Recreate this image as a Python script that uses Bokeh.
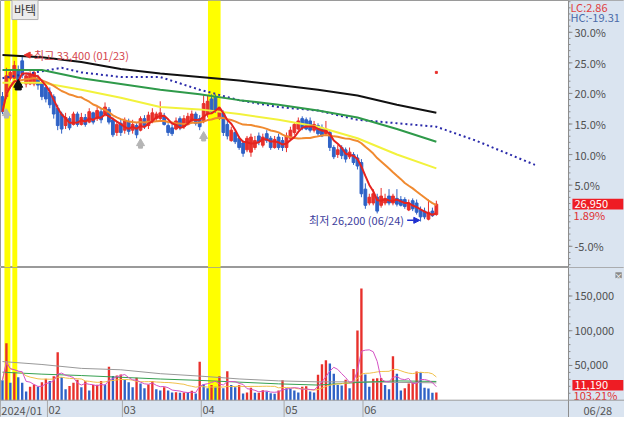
import pandas as pd
from bokeh.plotting import figure
from bokeh.layouts import column
from bokeh.models import (Range1d, BoxAnnotation, Label, Arrow, NormalHead, ColumnDataSource, Span)
from bokeh.core.properties import value
from bokeh.embed import file_html
from bokeh.resources import INLINE

# ---------------- data (daily candles 2024-01-16 .. 2024-06-28) ----------------
opens = [31600, 31600, 32400, 32400, 32750, 33150, 32150, 32150, 32150, 32400,
         32200, 32000, 31800, 31600, 31100, 30850, 30350, 30650, 30400, 30850,
         30400, 30700, 30500, 30900, 30650, 30950, 30850, 31050, 30600, 30050,
         30450, 30150, 30500, 30150, 30350, 30150, 30650, 30350, 30550, 30650,
         30650, 30750, 30350, 30250, 30200, 30650, 30300, 30400, 30550, 30850,
         30650, 30550, 30850, 31500, 31600, 30700, 30900, 30400, 29700, 30050,
         29800, 29600, 29300, 29200, 29400, 29900, 29500, 30000, 29800, 29400,
         29850, 29700, 29400, 29800, 30050, 30200, 30650, 30600, 30550, 30150,
         30350, 30250, 30000, 30050, 29400, 29100, 29400, 29300, 29000, 29100,
         28950, 28750, 27600, 27000, 27000, 27250, 26900, 27000, 27300, 27000,
         27200, 27150, 27150, 26700, 27100, 27000, 26700, 26650, 26300, 26650,
         26500]
closes = [30950, 32500, 32650, 32950, 32300, 32600, 32500, 32550, 32650, 32100,
          31600, 31500, 31250, 30850, 30350, 30200, 30700, 30250, 30850, 30400,
          30700, 30400, 30950, 30500, 31000, 30600, 31150, 30500, 29950, 30400,
          30050, 30550, 30100, 30400, 29950, 30650, 30350, 30800, 30900, 30850,
          30900, 30400, 30050, 30000, 30550, 30250, 30650, 30750, 30850, 30450,
          30300, 31300, 31400, 30950, 31000, 31050, 30050, 29900, 30150, 29650,
          29400, 29150, 29800, 29850, 29700, 29650, 29850, 29700, 29400, 29750,
          29400, 29400, 29900, 30150, 30400, 30550, 30250, 30200, 30150, 30400,
          30000, 29900, 30200, 29400, 29000, 29300, 29050, 28900, 29200, 28750,
          28600, 27400, 26900, 27250, 27400, 26650, 27300, 27200, 27000, 27300,
          26950, 26900, 26850, 27000, 26750, 26600, 26400, 26400, 26600, 26450,
          26950]
highs = [31800, 32850, 32750, 33150, 32950, 33400, 32650, 32700, 32750, 32550,
         32350, 32100, 32000, 31700, 31250, 30950, 30900, 30750, 30950, 30950,
         30900, 30850, 31100, 30950, 31150, 31100, 31350, 31150, 30700, 30550,
         30600, 30700, 30650, 30600, 30450, 30750, 30800, 30950, 31100, 30950,
         31400, 30900, 30450, 30400, 30700, 30750, 30800, 30900, 31000, 30950,
         30800, 31700, 31650, 31700, 31700, 31150, 31000, 30550, 30300, 30150,
         29900, 29700, 29900, 30000, 29900, 30050, 30000, 30150, 29900, 29900,
         30000, 29850, 30050, 30300, 30500, 30700, 30750, 30700, 30700, 30550,
         30450, 30400, 30550, 30150, 29500, 29500, 29500, 29400, 29400, 29200,
         29100, 28900, 27850, 27400, 27600, 27400, 27650, 27400, 27600, 27400,
         27600, 27300, 27250, 27150, 27200, 27150, 26850, 26800, 27150, 26800,
         27100]
lows = [30850, 31500, 32300, 32350, 32150, 32400, 32000, 32100, 32050, 31900,
        31450, 31350, 31100, 30650, 30150, 30000, 30200, 30150, 30350, 30300,
        30350, 30300, 30450, 30400, 30550, 30450, 30750, 30400, 29850, 29900,
        29900, 30000, 29950, 30000, 29800, 30100, 30200, 30200, 30450, 30550,
        30550, 30350, 29900, 29900, 30150, 30150, 30200, 30350, 30450, 30350,
        30150, 30450, 30700, 30850, 30900, 30600, 29900, 29750, 29650, 29550,
        29300, 29000, 29200, 29000, 29300, 29500, 29400, 29600, 29300, 29350,
        29300, 29250, 29200, 29700, 29950, 30150, 30150, 30150, 30050, 30050,
        29900, 29850, 29900, 29250, 28900, 28950, 28900, 28750, 28900, 28650,
        28450, 27250, 26750, 26900, 26900, 26550, 26800, 26900, 26900, 26900,
        26850, 26850, 26750, 26650, 26650, 26500, 26200, 26300, 26250, 26400,
        26450]
volumes = [28700, 82000, 25000, 40000, 33000, 25000, 12500, 19500, 22600, 19500,
           26000, 31000, 27800, 34300, 69000, 33000, 15700, 20400, 25000, 29600,
           18500, 27300, 13900, 21800, 22400, 27800, 22600, 48000, 34700, 35500,
           37000, 29600, 26000, 18500, 32400, 24000, 17100, 22600, 27800, 15700,
           13900, 18500, 13900, 11100, 11600, 10600, 11100, 10600, 13500, 9700,
           55500, 23100, 17100, 21800, 19500, 34300, 17100, 41700, 21800, 18500,
           21800, 9700, 11100, 17800, 10600, 10900, 14400, 12500, 10000, 9300,
           13900, 28700, 17100, 16500, 13900, 11100, 19500, 20000, 12500, 11100,
           36600, 51900, 57400, 52800, 37900, 21800, 21000, 29600, 17100, 44900,
           100400, 160700, 37000, 19500, 31000, 31500, 32000, 21800, 15700, 63400,
           37900, 13900, 17100, 24000, 26000, 41200, 40000, 17800, 17000, 10842,
           11190]

ma_idx = [0, 10, 20, 30, 40, 50, 60, 70, 80, 90, 100, 110]
ma240 = [33400, 33300, 33100, 32800, 32600, 32450, 32300, 32100, 31900, 31650, 31250, 30900]
ma120 = [32750, 32750, 32400, 32150, 31900, 31700, 31450, 31250, 31000, 30700, 30200, 29650]
ma60 = [32200, 32200, 31900, 31550, 31150, 31050, 30850, 30600, 30300, 29800, 29100, 28500]
lead_idx = [0, 10, 15, 20, 25, 30, 40, 50, 60, 70, 80, 90, 100, 110, 120, 130, 135]
lead_line = [32400, 32700, 32850, 32650, 32550, 32450, 32450, 31900, 31450, 31150, 31000,
             30600, 30450, 30300, 29700, 29000, 28650]
vma120 = [55600, 51400, 45800, 43800, 38200, 34700, 30600, 27800, 26400, 26400, 25700, 25000]
vma60 = [40300, 37500, 35500, 33000, 30500, 28500, 26000, 23500, 21800, 25500, 27800, 27000]

signal_idx = [1, 35, 51]
signal_price = [30880, 29580, 29890]
mark_idx = [4]
mark_price = [32120]

highlight_left = [0.5, 2.5, 52.1]
highlight_right = [2.0, 3.75, 55.3]

month_start = [0, 12, 31, 51, 72, 92]
month_labels = ["2024/01", "02", "03", "04", "05", "06"]
pct_ticks = [30, 25, 20, 15, 10, 5, -5]
pct_minor = list(range(-8, 36))
vol_ticks = [50000, 100000, 150000]
vol_minor = list(range(10000, 190000, 10000))
last_date = "06/28"
high_date = "01/23"
low_date = "06/24"
stock_name = "바텍"

# ---------------- derived ----------------
RED = "#e8302b"
BLUE = "#2f62c6"
n = len(closes)
idx = list(range(n))
base = closes[-2]
last = closes[-1]
hi_val = max(highs)
lo_val = min(lows)
hi_i = highs.index(hi_val)
lo_i = lows.index(lo_val)

cs = pd.Series(closes, dtype=float)
ma5 = cs.rolling(5, min_periods=1).mean().tolist()
ma20 = cs.rolling(20, min_periods=1).mean().tolist()
vs = pd.Series(volumes, dtype=float)
vma5 = vs.rolling(5, min_periods=1).mean().tolist()
vma20 = vs.rolling(20, min_periods=1).mean().tolist()

ccol = [RED if c >= o else BLUE for o, c in zip(opens, closes)]
vcol = [BLUE] + [RED if volumes[i] > volumes[i - 1] else BLUE for i in range(1, n)]

src = ColumnDataSource(dict(x=idx, h=highs, l=lows,
                            top=[max(o, c) for o, c in zip(opens, closes)],
                            bot=[min(o, c) for o, c in zip(opens, closes)],
                            col=ccol, v=volumes, vcol=vcol))

FONT = "Noto Sans CJK KR"
PANEL = "#dae4f0"
EDGE = "#9a9a9a"
AXC = "#8c8c8c"
TXT = "#505050"
XMAX = 143.5          # right edge of the plotting area (index units)
xr = Range1d(-0.5, 157.7)


def base_fig(h, yr):
    f = figure(width=624, height=h, x_range=xr, y_range=yr, toolbar_location=None,
               output_backend="svg", x_axis_location=None, y_axis_location=None,
               min_border_left=0, min_border_right=0, min_border_top=0, min_border_bottom=0,
               background_fill_color="white", border_fill_color="white", outline_line_color=EDGE)
    f.xgrid.visible = False
    f.ygrid.visible = False
    f.add_layout(BoxAnnotation(left=XMAX, fill_color=PANEL, fill_alpha=1, line_color=None,
                               level="underlay"))
    f.add_layout(Span(location=XMAX, dimension="height", line_color=AXC, line_width=1))
    return f


def right_axis(f, ticks, minor, labels):
    f.segment([XMAX] * len(minor), minor, [XMAX + 0.5] * len(minor), minor, line_color=AXC, line_width=1)
    f.segment([XMAX] * len(ticks), ticks, [XMAX + 1.0] * len(ticks), ticks, line_color=AXC, line_width=1)
    f.text([XMAX + 1.5] * len(ticks), ticks, text=labels, text_font=value(FONT), text_font_size="11px",
           text_color=TXT, text_baseline="middle", text_align="left")


# ---------------- price panel ----------------
p1 = base_fig(267, Range1d(24210, 35760))
for l, r in zip(highlight_left, highlight_right):
    p1.add_layout(BoxAnnotation(left=l, right=r, fill_color="#ffff00", fill_alpha=1,
                                line_color=None, level="underlay"))

p1.segment("x", "h", "x", "l", source=src, line_color="col", line_width=1)
p1.vbar(x="x", width=0.7, top="top", bottom="bot", fill_color="col", line_color="col", source=src)

p1.line(ma_idx, ma240, line_color="#111111", line_width=2)
p1.line(lead_idx, lead_line, line_color="#2a2aaa", line_width=2, line_dash="2 3")
p1.line(ma_idx, ma120, line_color="#2f9a4a", line_width=2)
p1.line(ma_idx, ma60, line_color="#f2f23c", line_width=2)
p1.line(idx, ma20, line_color="#f08a30", line_width=2)
p1.line(idx, ma5, line_color="#e5231f", line_width=2)

p1.scatter(signal_idx, [v - 120 for v in signal_price], marker="square", size=4, color="#b5b5b5")
p1.scatter(signal_idx, signal_price, marker="triangle", size=8, color="#b5b5b5")
p1.scatter(mark_idx, [v - 100 for v in mark_price], marker="square", size=6, color="#111111")
p1.scatter(mark_idx, mark_price, marker="triangle", size=9, color="#111111")
p1.scatter([n - 1], [32650], marker="square", size=2, color=RED)

pt = [base * (1 + k / 100) for k in pct_ticks]
pm = [base * (1 + k / 100) for k in pct_minor]
right_axis(p1, pt, pm, [f"{k:.1f}%" for k in pct_ticks])

p1.add_layout(Label(x=2.4, y=35390, text=stock_name, text_font=FONT, text_font_size="12px",
                    text_color="#333333", text_baseline="middle",
                    background_fill_color="#ececec", border_line_color="#b0b0b0", padding=2))

p1.add_layout(Arrow(end=NormalHead(size=6, fill_color=RED, line_color=RED),
                    x_start=hi_i + 2.6, y_start=hi_val, x_end=hi_i + 0.5, y_end=hi_val,
                    line_color=RED, line_width=1.5))
p1.text([hi_i + 3.0], [hi_val], text=[f"최고 {hi_val:,} ({high_date})"], text_font=value(FONT),
        text_font_size="11px", text_color="#d4464e", text_baseline="middle")
p1.add_layout(Arrow(end=NormalHead(size=6, fill_color="#1f2fd0", line_color="#1f2fd0"),
                    x_start=lo_i - 3.4, y_start=lo_val + 50, x_end=lo_i - 0.2, y_end=lo_val + 50,
                    line_color="#1f2fd0", line_width=1.5))
p1.text([lo_i - 4.2], [lo_val + 50], text=[f"최저 {lo_val:,} ({low_date})"], text_font=value(FONT),
        text_font_size="11px", text_color="#3c3c9c", text_baseline="middle", text_align="right")

lc = (last / lo_val - 1) * 100
hc = (last / hi_val - 1) * 100
chg = (last / base - 1) * 100
p1.text([XMAX + 0.5], [35470], text=[f"LC:{lc:.2f}"], text_font=value(FONT), text_font_size="11px",
        text_color="#e04040", text_baseline="middle")
p1.text([XMAX + 0.5], [35050], text=[f"HC:{hc:.2f}"], text_font=value(FONT), text_font_size="11px",
        text_color="#4a6aa8", text_baseline="middle")
p1.quad(left=[XMAX + 1.0], right=[157.4], top=[last + 230], bottom=[last - 230], fill_color="#ee1c24",
        line_color=None)
p1.text([XMAX + 1.5], [last], text=[f"{last:,}"], text_font=value(FONT), text_font_size="11px",
        text_color="white", text_baseline="middle")
p1.text([XMAX + 1.3], [26490], text=[f"{chg:.2f}%"], text_font=value(FONT), text_font_size="11px",
        text_color="#e03030", text_baseline="middle")

# ---------------- volume panel ----------------
p2 = base_fig(150, Range1d(-24900, 191000))
for l, r in zip(highlight_left, highlight_right):
    p2.add_layout(BoxAnnotation(left=l, right=r, bottom=0, fill_color="#ffff00", fill_alpha=1,
                                line_color=None, level="underlay"))
p2.add_layout(BoxAnnotation(top=0, right=XMAX, fill_color=PANEL, fill_alpha=1, line_color=None,
                            level="underlay"))
p2.add_layout(Span(location=0, dimension="width", line_color=EDGE, line_width=1))

p2.vbar(x="x", width=0.6, top="v", bottom=0, fill_color="vcol", line_color=None, source=src)
p2.line(ma_idx, vma120, line_color="#999999", line_width=1)
p2.line(ma_idx, vma60, line_color="#35a050", line_width=1)
p2.line(idx, vma20, line_color="#f0c04a", line_width=1)
p2.line(idx, vma5, line_color="#d452c4", line_width=1)

right_axis(p2, vol_ticks, vol_minor, [f"{v:,}" for v in vol_ticks])

seps = [s - 0.6 for s in month_start[1:]]
p2.segment(seps, [0] * len(seps), seps, [-24900] * len(seps), line_color="#a8a8a8", line_width=1)
p2.text([s - 0.3 for s in month_start], [-13900] * len(month_start), text=month_labels,
        text_font=value(FONT), text_font_size="11px", text_color="#555555", text_baseline="middle")
p2.text([XMAX + 3.8], [-13900], text=[last_date], text_font=value(FONT), text_font_size="11px",
        text_color="#555555", text_baseline="middle")

vr = volumes[-1] / volumes[-2] * 100
p2.quad(left=[XMAX + 1.0], right=[157.4], top=[29200], bottom=[13900], fill_color="#ee1c24",
        line_color=None)
p2.text([XMAX + 1.5], [21500], text=[f"{volumes[-1]:,}"], text_font=value(FONT), text_font_size="11px",
        text_color="white", text_baseline="middle")
p2.text([XMAX + 1.3], [6900], text=[f"{vr:.2f}%"], text_font=value(FONT), text_font_size="11px",
        text_color="#e03030", text_baseline="middle")
p2.rect([156.2], [180000], width=1.6, height=8600, fill_color="#8a8a8a", line_color=None)
p2.text([156.2], [180000], text=["×"], text_font=value(FONT), text_font_size="8px",
        text_color="white", text_baseline="middle", text_align="center")

layout = column(p1, p2)
open("out.html", "w").write(file_html(layout, INLINE))
